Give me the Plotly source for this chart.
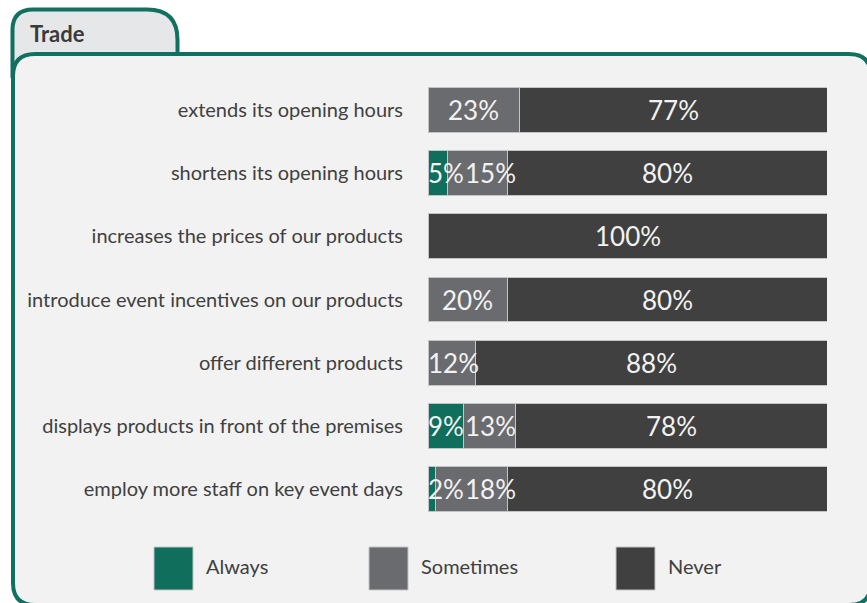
import plotly.graph_objects as go

# ---------------- data ----------------
categories = [
    "extends its opening hours",
    "shortens its opening hours",
    "increases the prices of our products",
    "introduce event incentives on our products",
    "offer different products",
    "displays products in front of the premises",
    "employ more staff on key event days",
]
series_names = ["Always", "Sometimes", "Never"]
always = [0, 5, 0, 0, 0, 9, 2]
sometimes = [23, 15, 0, 20, 12, 13, 18]
never = [77, 80, 100, 80, 88, 78, 80]
panel_title = "Trade"

# ---------------- styling ----------------
W, H = 867, 603
colors = ["#0f6e5c", "#6a6b6f", "#404040"]
border = "#127060"
FONT = "Lato"

def px(x):
    return x / W

def py(y):
    return 1 - y / H

x0_px, x1_px = 428, 827
y0_px, y1_px = 78.4, 520.6

fig = go.Figure()
values = [always, sometimes, never]
for name, vals, col in zip(series_names, values, colors):
    fig.add_trace(go.Bar(
        y=categories, x=vals, name=name, orientation="h",
        marker=dict(color=col, line=dict(color="#c4c4c4", width=1)),
        showlegend=False, hoverinfo="x+y+name",
    ))

# value labels, centred in segment, pushed right when they would overlap
ppu = (x1_px - x0_px) / 100.0
def text_w(s):
    return sum(21 if c == "%" else 15 for c in s) / ppu

annotations = []
for i, cat in enumerate(categories):
    start = 0.0
    prev_right = 0.0
    for vals in values:
        v = vals[i]
        if v > 0:
            label = f"{v}%"
            w = text_w(label)
            left = max(start + v / 2 - w / 2, prev_right, 0)
            annotations.append(dict(
                x=left + w / 2, y=cat, xref="x", yref="y", text=label,
                showarrow=False, xanchor="center", yanchor="middle",
                font=dict(family=FONT, size=26, color="#f2f2f2"),
            ))
            prev_right = left + w + 0.3
        start += v

shapes = []
# tab
p = [(12.5, 78), (12.5, 30), (12.5, 9.5), (33, 9.5), (147, 9.5), (177.5, 9.5), (177.5, 40), (177.5, 78)]
tab_path = (f"M {px(p[0][0])},{py(p[0][1])} L {px(p[1][0])},{py(p[1][1])} "
            f"Q {px(p[2][0])},{py(p[2][1])} {px(p[3][0])},{py(p[3][1])} "
            f"L {px(p[4][0])},{py(p[4][1])} Q {px(p[5][0])},{py(p[5][1])} {px(p[6][0])},{py(p[6][1])} "
            f"L {px(p[7][0])},{py(p[7][1])}")
shapes.append(dict(type="path", path=tab_path, xref="paper", yref="paper",
                   fillcolor="#e6e7e9", line=dict(color=border, width=4), layer="below"))
# main panel (extends past right / bottom edges of the picture)
L, T, R, B, r = 13, 54, 871, 605, 22
panel = (f"M {px(L)},{py(T + r)} Q {px(L)},{py(T)} {px(L + r)},{py(T)} "
         f"L {px(R - r)},{py(T)} Q {px(R)},{py(T)} {px(R)},{py(T + r)} "
         f"L {px(R)},{py(B - r)} Q {px(R)},{py(B)} {px(R - r)},{py(B)} "
         f"L {px(L + r)},{py(B)} Q {px(L)},{py(B)} {px(L)},{py(B - r)} Z")
shapes.append(dict(type="path", path=panel, xref="paper", yref="paper",
                   fillcolor="#f2f2f2", line=dict(color=border, width=4), layer="below"))

annotations.append(dict(x=px(28), y=py(34), xref="paper", yref="paper", text=f"<b>{panel_title}</b>",
                        showarrow=False, xanchor="left", yanchor="middle",
                        font=dict(family=FONT, size=22, color="#3a3a3a")))

# custom legend with large squares
legend_x = [154, 369, 616]
for name, col, lx in zip(series_names, colors, legend_x):
    shapes.append(dict(type="rect", xref="paper", yref="paper",
                       x0=px(lx), x1=px(lx + 39), y0=py(590), y1=py(547),
                       fillcolor=col, line=dict(color="#c4c4c4", width=1)))
    annotations.append(dict(x=px(lx + 50), y=py(566), xref="paper", yref="paper", text=name,
                            showarrow=False, xanchor="left", yanchor="middle",
                            font=dict(family=FONT, size=20, color="#404040")))

fig.update_layout(
    width=W, height=H, barmode="stack", bargap=0.29,
    margin=dict(l=0, r=0, t=0, b=0),
    paper_bgcolor="white", plot_bgcolor="rgba(0,0,0,0)",
    xaxis=dict(domain=[px(x0_px), px(x1_px)], range=[0, 100], visible=False, fixedrange=True),
    yaxis=dict(domain=[py(y1_px), py(y0_px)], autorange="reversed", showgrid=False,
               showline=False, zeroline=False, ticks="", ticklabelstandoff=24,
               tickfont=dict(family=FONT, size=20, color="#404040")),
    shapes=shapes, annotations=annotations, showlegend=False,
)

fig.write_html("out.html", config={"displayModeBar": False},
               post_script="document.body.style.margin='0';document.body.style.overflow='hidden';")
